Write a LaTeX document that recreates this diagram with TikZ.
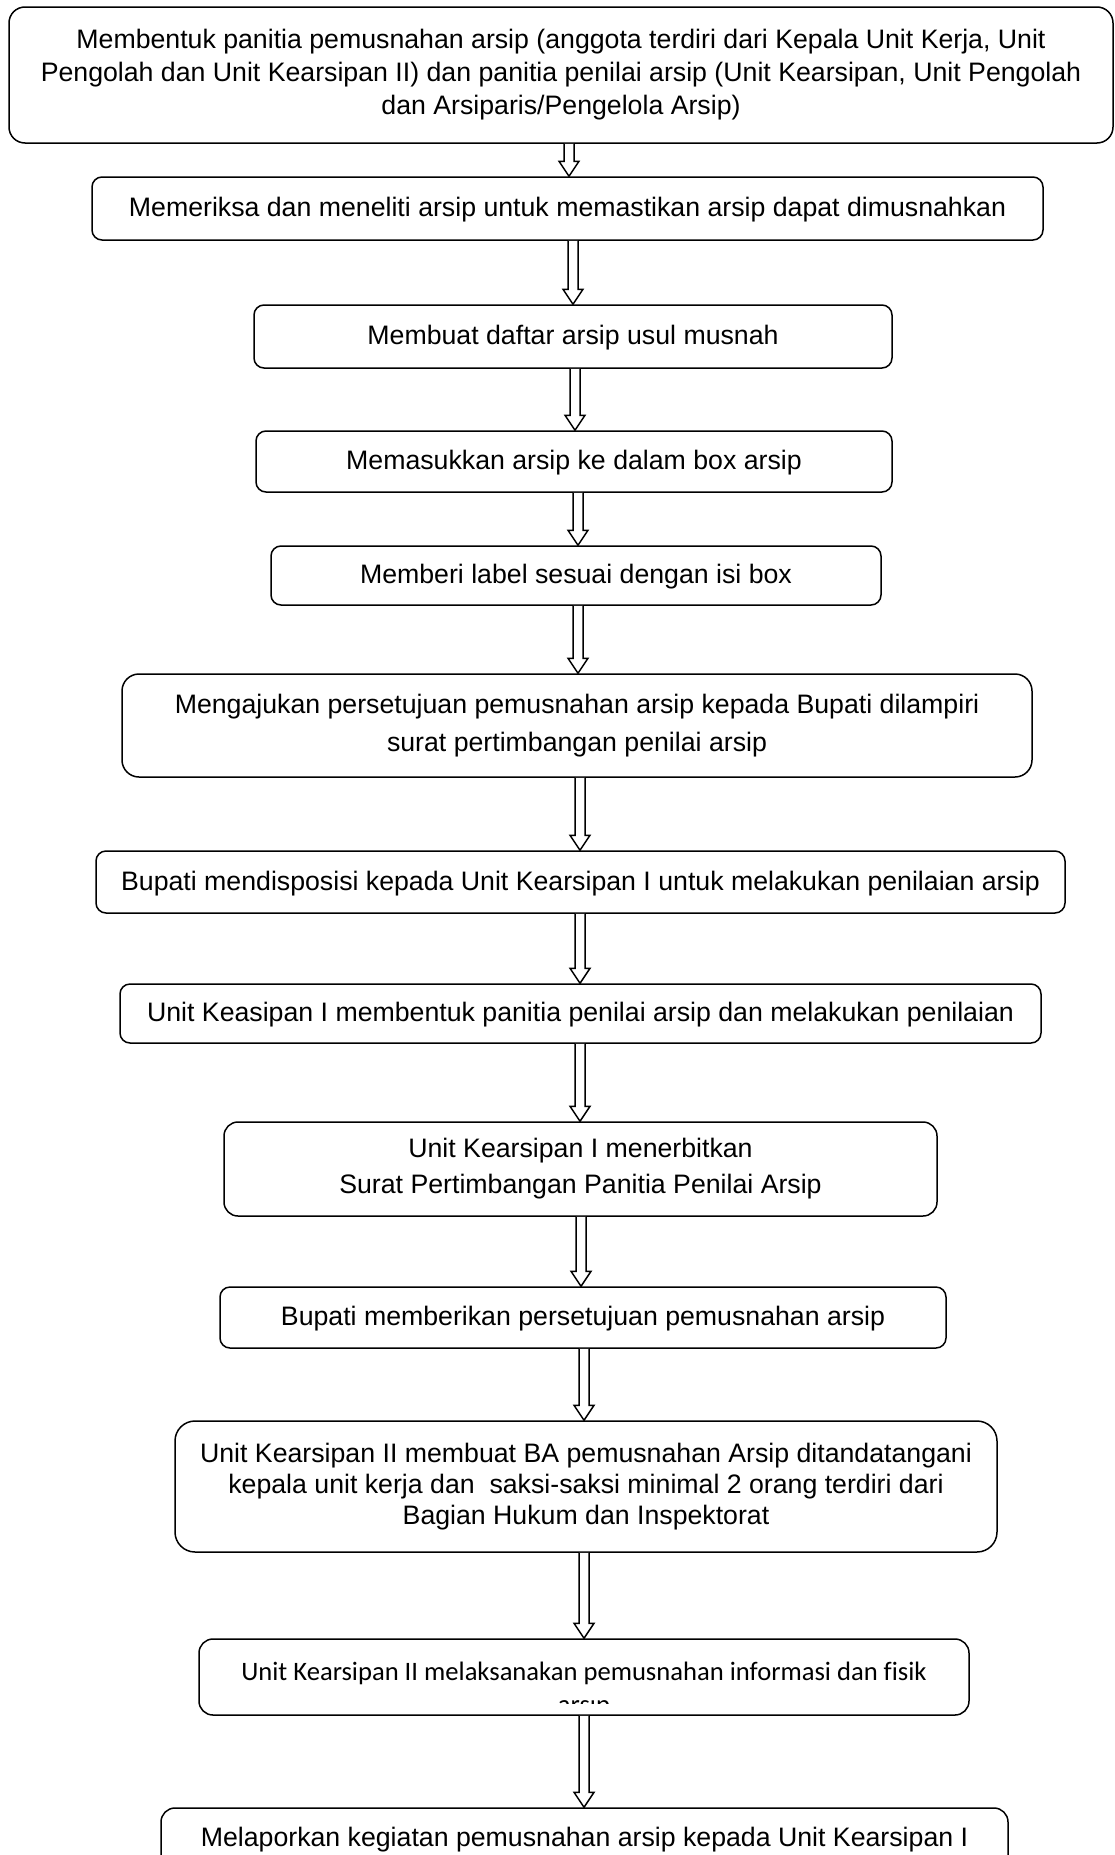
\documentclass[tikz,border=0pt]{standalone}
\usepackage{fontspec}
\setmainfont{Liberation Sans}
\newfontfamily\carlitofont[Ligatures=CommonOff]{Carlito}
\usetikzlibrary{calc}
\tikzset{
  box/.style={draw=black, line width=1.5pt, rounded corners=10pt, inner sep=0pt,
    align=center, font=\fontsize{26.7}{33}\selectfont},
  oneline/.style={text height=19pt, text depth=3pt},
  barr/.style={draw=black, fill=white, line width=1.5pt, line join=miter},
}
\newcommand\blockarrow[3]{%
  \path let \p1=(#1.south), \p2=(#2.north) in
    [barr] (#3pt-5pt,\y1) -- (#3pt-5pt,\y2+15pt) -- (#3pt-10pt,\y2+15pt)
    -- (#3pt,\y2) -- (#3pt+10pt,\y2+15pt) -- (#3pt+5pt,\y2+15pt) -- (#3pt+5pt,\y1);
}
\begin{document}
\begin{tikzpicture}[x=1pt,y=-1pt]
\path[use as bounding box] (0,0) rectangle (1115,1855);
\clip (0,0) rectangle (1115,1855);
\fill[white] (0,0) rectangle (1115,1855);

\node[box, rounded corners=16pt, minimum width=1104pt, minimum height=136pt] (b1) at (561,75)
 {Membentuk panitia pemusnahan arsip (anggota terdiri dari Kepala Unit Kerja, Unit\\
  Pengolah dan Unit Kearsipan II) dan panitia penilai arsip (Unit Kearsipan, Unit Pengolah\\
  dan Arsiparis/Pengelola Arsip)};
\node[box, oneline, minimum width=951pt, minimum height=63pt] (b2) at (567.5,208.5)
 {Memeriksa dan meneliti arsip untuk memastikan arsip dapat dimusnahkan};
\node[box, oneline, minimum width=638pt, minimum height=63pt] (b3) at (573,336.5)
 {Membuat daftar arsip usul musnah};
\node[box, oneline, minimum width=636pt, minimum height=61pt] (b4) at (574,461.5)
 {Memasukkan arsip ke dalam box arsip};
\node[box, oneline, minimum width=610pt, minimum height=59pt] (b5) at (576,575.5)
 {Memberi label sesuai dengan isi box};
\node[box, rounded corners=17pt, minimum width=910pt, minimum height=103pt,
      font=\fontsize{26.7}{38}\selectfont] (b6) at (577,725.5)
 {Mengajukan persetujuan pemusnahan arsip kepada Bupati dilampiri\\
  surat pertimbangan penilai arsip};
\node[box, oneline, minimum width=969pt, minimum height=62pt] (b7) at (580.5,882)
 {Bupati mendisposisi kepada Unit Kearsipan I untuk melakukan penilaian arsip};
\node[box, oneline, minimum width=921pt, minimum height=59pt] (b8) at (580.5,1013.5)
 {Unit Keasipan I membentuk panitia penilai arsip dan melakukan penilaian};
\node[box, rounded corners=14pt, minimum width=713pt, minimum height=94pt,
      font=\fontsize{26.7}{36}\selectfont] (b9) at (580.5,1169)
 {Unit Kearsipan I menerbitkan\\
  Surat Pertimbangan Panitia Penilai Arsip};
\node[box, oneline, minimum width=726pt, minimum height=61pt] (b10) at (583,1317.5)
 {Bupati memberikan persetujuan pemusnahan arsip};
\node[box, rounded corners=20pt, minimum width=822pt, minimum height=131pt,
      font=\fontsize{26.7}{31}\selectfont] (b11) at (586,1486.5)
 {Unit Kearsipan II membuat BA pemusnahan Arsip ditandatangani\\
  kepala unit kerja dan\ \ saksi-saksi minimal 2 orang terdiri dari\\
  Bagian Hukum dan Inspektorat};
\node[box, rounded corners=14pt, minimum width=770pt, minimum height=76pt,
      text height=12pt, text depth=6pt,
      font=\carlitofont\fontsize{26.6}{33}\selectfont] (b12) at (584,1677)
 {Unit Kearsipan II melaksanakan pemusnahan informasi dan fisik};
\begin{scope}
  \clip (400,1698) rectangle (800,1703);
  \node[font=\carlitofont\fontsize{26.6}{33}\selectfont, inner sep=0pt, anchor=base]
    (b12b) at (584,1713) {arsip};
\end{scope}
\node[box, rounded corners=14pt, minimum width=847pt, minimum height=80pt,
      text height=8pt, text depth=12pt] (b13) at (584.5,1848)
 {Melaporkan kegiatan pemusnahan arsip kepada Unit Kearsipan I};

\blockarrow{b1}{b2}{569}
\blockarrow{b2}{b3}{573}
\blockarrow{b3}{b4}{575}
\blockarrow{b4}{b5}{578}
\blockarrow{b5}{b6}{578}
\blockarrow{b6}{b7}{580}
\blockarrow{b7}{b8}{580}
\blockarrow{b8}{b9}{580}
\blockarrow{b9}{b10}{581}
\blockarrow{b10}{b11}{584}
\blockarrow{b11}{b12}{584}
\blockarrow{b12}{b13}{584}
\end{tikzpicture}
\end{document}
